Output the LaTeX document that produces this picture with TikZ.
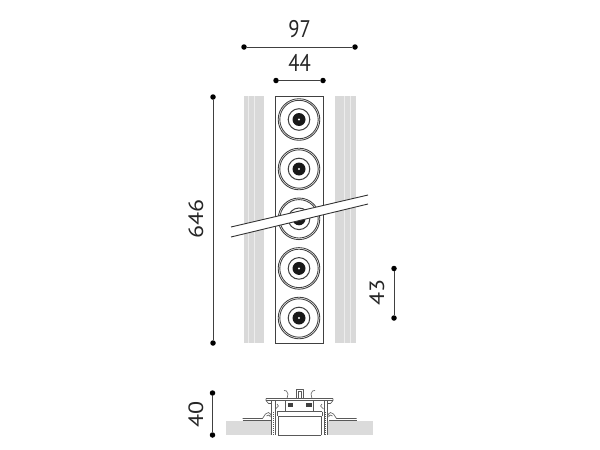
\documentclass[tikz,border=0pt]{standalone}
\usepackage{fontspec}
\setmainfont{PT Sans}
\definecolor{band}{gray}{0.85}
\definecolor{bandl}{gray}{0.93}
\definecolor{ceil}{gray}{0.86}
\tikzset{
  dimline/.style={draw=black!75,line width=0.9pt},
  dimdot/.style={circle,fill=black,inner sep=0pt,minimum size=5.5pt},
  dimtext/.style={font=\fontsize{24}{24}\selectfont,text=black!85,inner sep=0pt,xscale=0.86},
  dimtextv/.style={font=\fontsize{24}{24}\selectfont,text=black!85,inner sep=0pt,rotate=90,yscale=0.86},
  prof/.style={draw=black!65,line width=0.6pt,line join=round},
  ring/.style={draw=black!75,line width=0.85pt},
}
\begin{document}
\begin{tikzpicture}[x=1pt,y=-1pt]
\useasboundingbox (0,0) rectangle (600,450);
\fill[white] (0,0) rectangle (600,450);
% side strips
\foreach \s in {1,-1}{
\begin{scope}[shift={(299.5,0)},xscale=\s]
  \fill[band] (-56,96) rectangle (-35.5,343);
  \fill[bandl] (-51.5,96) rectangle (-50.5,343);
  \fill[bandl] (-45.5,96) rectangle (-44.5,343);
\end{scope}
}
\draw[black!75,line width=0.8pt] (275.5,96) rectangle (323.5,343);
% lamps
\foreach \cy in {119.5,169,218.8,268.4,318}{
  \draw[ring] (299,\cy) circle (20.8);
  \draw[ring] (299,\cy) circle (19.2);
  \draw[ring,line width=1pt] (299,\cy) circle (10.8);
  \fill[black!90] (299,\cy) circle (6.5);
  \fill[white] (299,\cy) circle (1.1);
}
% cut band
\coordinate (ba) at (231,227); \coordinate (bb) at (368,195);
\coordinate (bc) at (368,204); \coordinate (bd) at (231,237);
\fill[white] (ba) -- (bb) -- (bc) -- (bd) -- cycle;
\draw[black!80,line width=0.9pt] (ba) -- (bb) (bd) -- (bc);
% section
\fill[ceil] (226,420.5) rectangle (272,435);
\fill[ceil] (327,420.5) rectangle (373,435);
\foreach \s in {1,-1}{
\begin{scope}[shift={(299.5,0)},xscale=\s]
  % ceiling flange and hook
  \draw[prof] (-57,418.5) -- (-37,418.5) -- (-34,414) -- (-31,412.5) -- (-29,414) -- (-28,417);
  \draw[prof] (-57,420) -- (-29,420);
  \draw[prof] (-33,416) -- (-30.5,415) -- (-29,417);
  % wall
  \draw[prof] (-28,404) -- (-28,435);
  \draw[prof,dash pattern=on 1pt off 1pt] (-26,412) -- (-26,435);
  \draw[prof] (-24.5,404) -- (-24.5,435);
  % top plate
  \draw[prof] (-33.5,398.5) -- (0,398.5);
  \draw[prof] (-33.5,400) -- (0,400);
  \draw[prof] (-33.5,398.5) -- (-33.5,400.5) -- (-31,403.5) -- (-28,403.5);
  \draw[prof] (-28,401) -- (-28,404) (-24.5,400) -- (-24.5,404);
  % inner clip
  \draw[prof] (-24,409) -- (-21,406) -- (-22.5,404);
  % driver box
  \draw[prof] (-14,400) -- (-14,411.7);
  \draw[prof] (-22.5,411.7) -- (0,411.7);
  \draw[prof] (-22.5,411.7) -- (-22.5,416);
  \fill[black!75] (-12,402.5) rectangle (-6.5,407);
  % side clips
  \draw[prof] (-15.5,390.5) -- (-13,391) -- (-11.5,394) -- (-12.5,398.5);
  % center U
  \draw[prof] (-3.5,398.5) -- (-3.5,389) -- (0,389);
  \draw[prof] (-1.5,398.5) -- (-1.5,391) -- (0,391);
  % light box
  \draw[prof] (-21.5,435) -- (-21.5,416) -- (0,416);
  \draw[prof] (-21.5,435) -- (0,435);
\end{scope}
}
% dimensions
\node[dimdot] (w1) at (244,47) {}; \node[dimdot] (w2) at (355,47) {};
\draw[dimline] (w1) -- (w2);
\node[dimtext] (t97) at (299.5,29) {97};
\node[dimdot] (n1) at (276,80.5) {}; \node[dimdot] (n2) at (323,80.5) {};
\draw[dimline] (n1) -- (n2);
\node[dimtext] (t44) at (299.5,63) {44};
\node[dimdot] (h1) at (213,97) {}; \node[dimdot] (h2) at (213,343) {};
\draw[dimline] (h1) -- (h2);
\node[dimtextv] (t646) at (196,219) {646};
\node[dimdot] (p1) at (394,268.5) {}; \node[dimdot] (p2) at (394,318) {};
\draw[dimline] (p1) -- (p2);
\node[dimtextv] (t43) at (377,292) {43};
\node[dimdot] (v1) at (212.5,393) {}; \node[dimdot] (v2) at (212.5,435) {};
\draw[dimline] (v1) -- (v2);
\node[dimtextv] (t40) at (196,414) {40};
\end{tikzpicture}
\end{document}
